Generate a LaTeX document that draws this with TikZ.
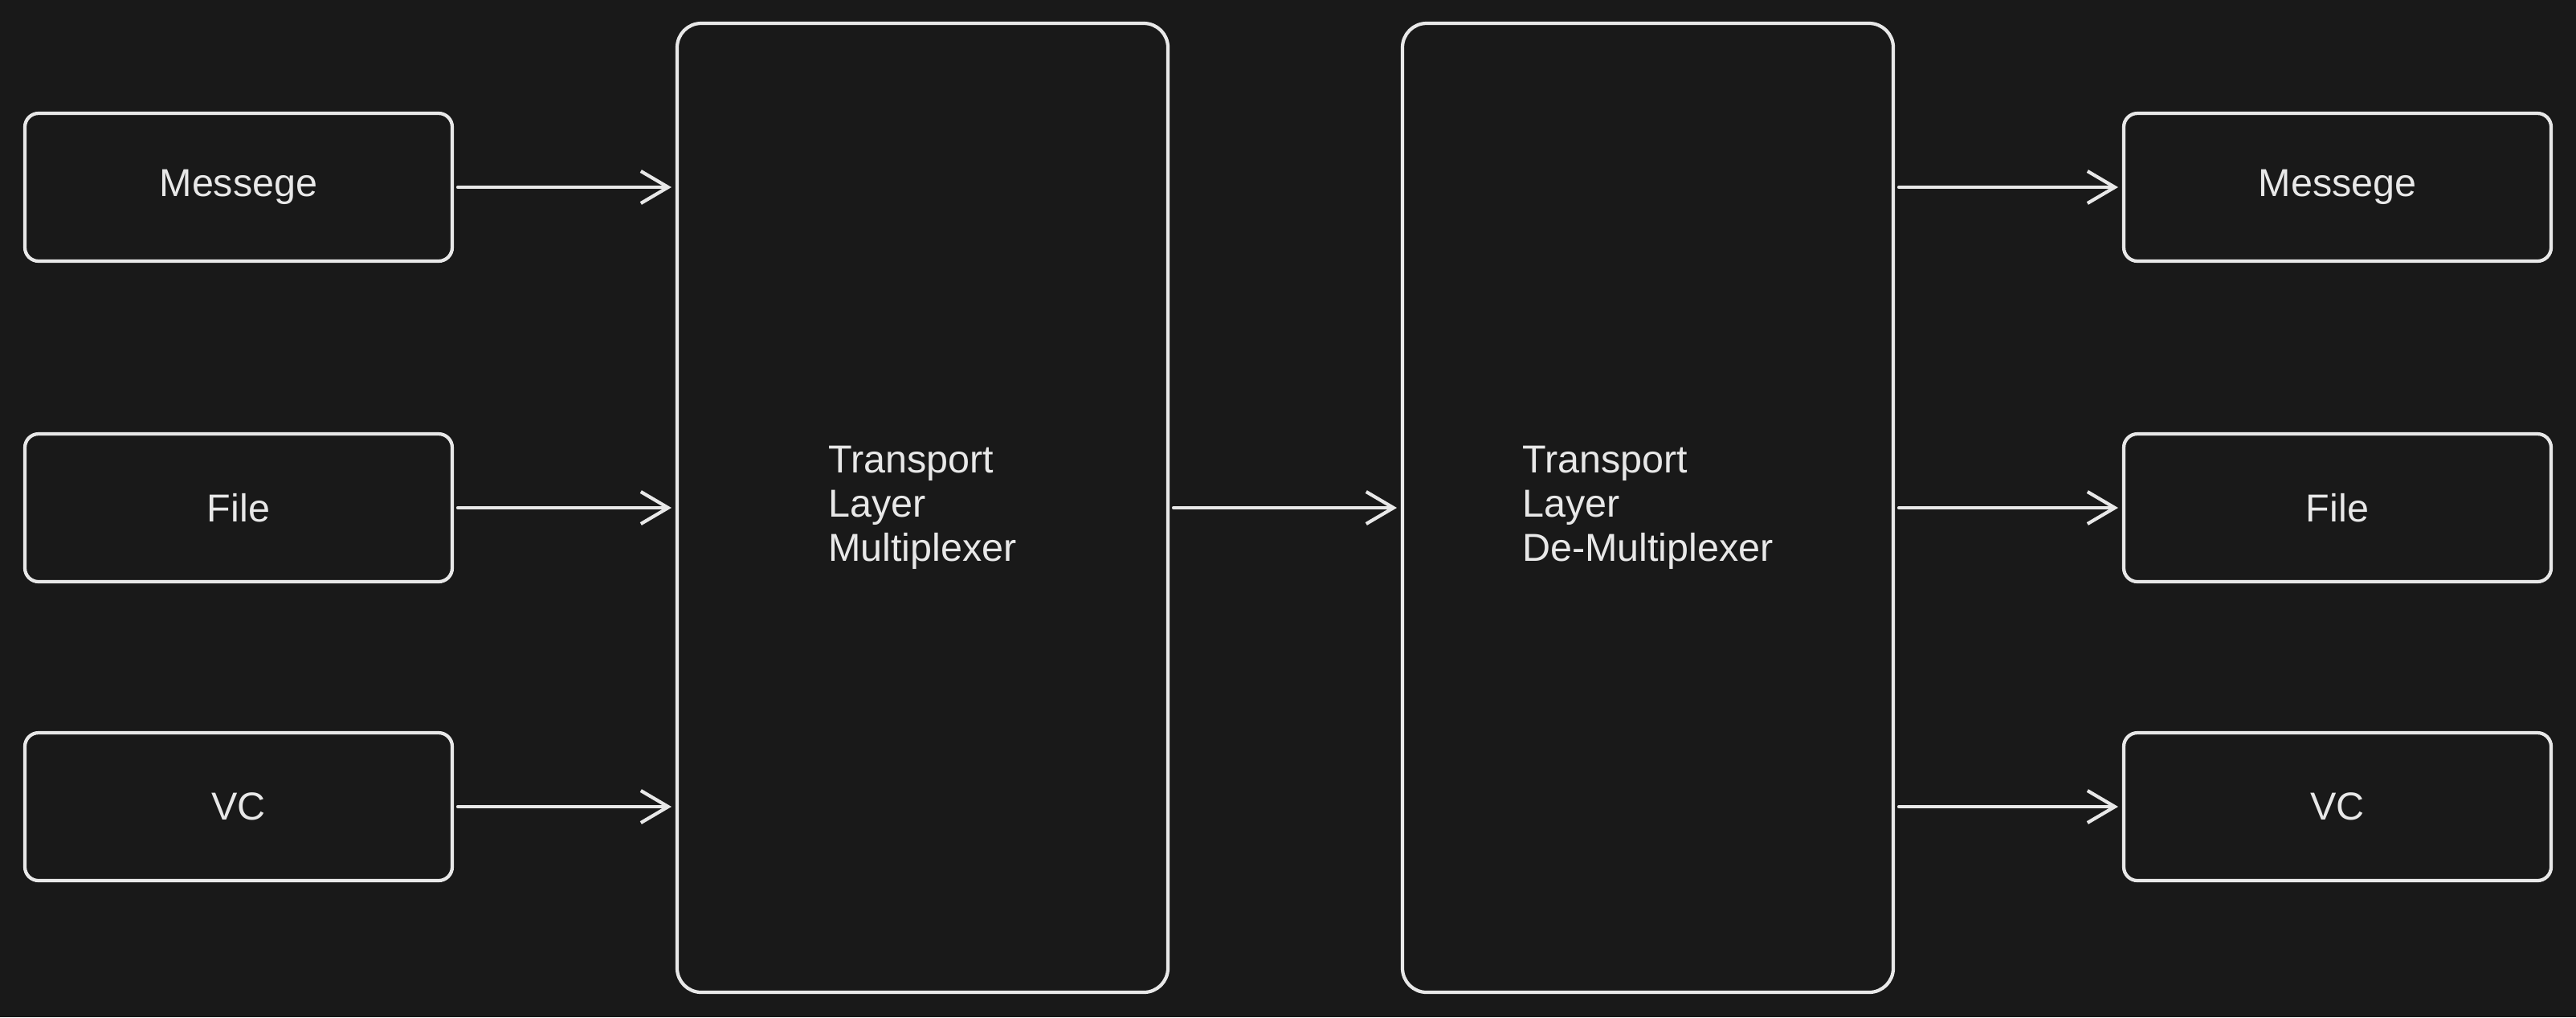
\documentclass[tikz,border=0pt]{standalone}
\usepackage{fontspec}
\setmainfont{Liberation Sans}
\usepackage{tikz}
\usetikzlibrary{arrows.meta, positioning}
\definecolor{canvas}{RGB}{25,25,25}
\definecolor{chalk}{RGB}{232,232,232}

\tikzset{
  smallbox/.style={draw=chalk, line width=1.2pt, rounded corners=0.17cm,
    minimum width=5.32cm, minimum height=1.84cm, inner sep=0pt, outer sep=2pt,
    text=chalk, font=\fontsize{13.8}{15.6}\selectfont},
  layerbox/.style={draw=chalk, line width=1.2pt, rounded corners=0.3cm,
    minimum width=6.11cm, minimum height=12.06cm, inner sep=0pt, outer sep=2pt,
    text=chalk, align=left, font=\fontsize{13.8}{15.6}\selectfont},
  flow/.style={draw=chalk, line width=1.2pt, line cap=round,
    -{Straight Barb[length=3.4mm,width=4mm,line width=1.2pt]}}
}

\begin{document}
\begin{tikzpicture}
        % Background and page size
        \fill[canvas] (0,0) rectangle (32.07,-12.66);
        \useasboundingbox (0,0) rectangle (32.07,-12.66);

        % Sender side
        \node[smallbox] (msgIn) at (2.97,-2.33) {Messege};
        \node[smallbox] (fileIn) at (2.97,-6.32) {File};
        \node[smallbox] (vcIn) at (2.97,-10.04) {VC};

        % Transport layer
        \node[layerbox] (mux) at (11.485,-6.32) {Transport\\Layer\\Multiplexer};
        \node[layerbox] (demux) at (20.515,-6.32) {Transport\\Layer\\De-Multiplexer};

        % Receiver side
        \node[smallbox] (msgOut) at (29.10,-2.33) {Messege};
        \node[smallbox] (fileOut) at (29.10,-6.32) {File};
        \node[smallbox] (vcOut) at (29.10,-10.04) {VC};

        % Arrows
        \foreach \src in {msgIn, fileIn, vcIn}
          \draw[flow] (\src.east) -- (\src.east -| mux.west);
        \draw[flow] (mux.east) -- (demux.west);
        \foreach \dst in {msgOut, fileOut, vcOut}
          \draw[flow] (demux.east |- \dst.west) -- (\dst.west);
      \end{tikzpicture}
\end{document}
